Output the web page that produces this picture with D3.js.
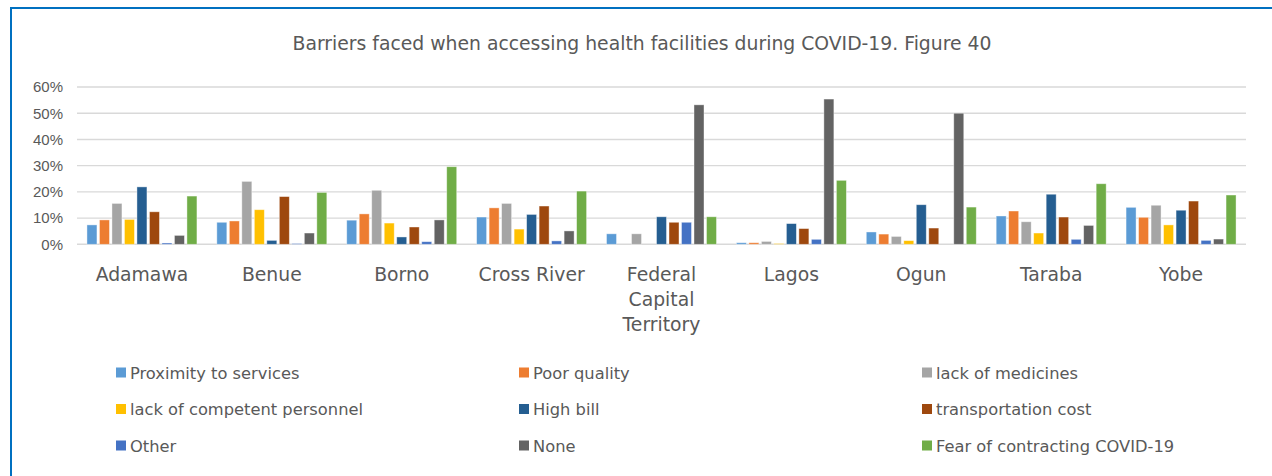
<!DOCTYPE html>
<html>
<head>
<meta charset="utf-8">
<script src="https://cdn.jsdelivr.net/npm/d3@7"></script>
<style>
  html, body { margin: 0; padding: 0; background: #fff; }
  svg { display: block; font-family: "DejaVu Sans", sans-serif; }
</style>
</head>
<body>
<svg id="chart" width="1272" height="476"></svg>
<script>
const categories = ["Adamawa", "Benue", "Borno", "Cross River", "Federal Capital Territory", "Lagos", "Ogun", "Taraba", "Yobe"];
const categoryLines = [["Adamawa"], ["Benue"], ["Borno"], ["Cross River"], ["Federal", "Capital", "Territory"], ["Lagos"], ["Ogun"], ["Taraba"], ["Yobe"]];
const seriesNames = ["Proximity to services", "Poor quality", "lack of medicines", "lack of competent personnel", "High bill", "transportation cost", "Other", "None", "Fear of contracting COVID-19"];
const seriesColors = ["#5B9BD5", "#ED7D31", "#A5A5A5", "#FFC000", "#255E91", "#9E480E", "#4472C4", "#636363", "#70AD47"];
// values in %, one array per series, in category order
const proximity   = [7.4, 8.4, 9.2, 10.4, 4.0, 0.6, 4.7, 10.8, 14.1];
const poorQuality = [9.3, 8.9, 11.6, 13.9, 0, 0.6, 3.9, 12.7, 10.3];
const medicines   = [15.6, 24.0, 20.6, 15.6, 4.0, 1.1, 3.0, 8.6, 14.9];
const personnel   = [9.5, 13.2, 8.1, 5.8, 0, 0.3, 1.4, 4.3, 7.4];
const highBill    = [21.9, 1.5, 2.8, 11.4, 10.5, 7.9, 15.1, 19.1, 13.0];
const transport   = [12.4, 18.2, 6.6, 14.6, 8.4, 6.0, 6.2, 10.4, 16.5];
const other       = [0.5, 0.3, 1.0, 1.3, 8.4, 1.9, 0, 1.9, 1.5];
const none        = [3.4, 4.3, 9.3, 5.1, 53.2, 55.4, 50.0, 7.2, 2.0];
const fear        = [18.4, 19.8, 29.6, 20.3, 10.5, 24.4, 14.2, 23.1, 18.8];
const seriesValues = [proximity, poorQuality, medicines, personnel, highBill, transport, other, none, fear];
const yTicks = [0, 10, 20, 30, 40, 50, 60];
const titleText = "Barriers faced when accessing health facilities during COVID-19. Figure 40";

const svg = d3.select("#chart");
const textColor = "#595959";

// frame lines (top and left, blue)
svg.append("line").attr("x1", 11).attr("x2", 1272).attr("y1", 8).attr("y2", 8)
  .attr("stroke", "#0070C0").attr("stroke-width", 2);
svg.append("line").attr("x1", 11).attr("x2", 11).attr("y1", 7).attr("y2", 476)
  .attr("stroke", "#0070C0").attr("stroke-width", 2);

// title
svg.append("text").attr("x", 642).attr("y", 50).attr("text-anchor", "middle")
  .attr("font-size", 18.8).attr("fill", textColor).text(titleText);

const plotLeft = 77, plotRight = 1246, plotTop = 87, plotBottom = 244.3;
const y = d3.scaleLinear().domain([0, 60]).range([plotBottom, plotTop]);
const x0 = d3.scaleBand().domain(categories).range([plotLeft, plotRight]).paddingInner(0).paddingOuter(0);
const groupW = x0.bandwidth() * 0.866;
const groupOff = (x0.bandwidth() - groupW) / 2;
const x1 = d3.scaleBand().domain(seriesNames).range([groupOff, groupOff + groupW]).paddingInner(0.2).paddingOuter(0.1);

// gridlines
svg.append("g").selectAll("line").data(yTicks).join("line")
  .attr("x1", plotLeft).attr("x2", plotRight)
  .attr("y1", d => y(d)).attr("y2", d => y(d))
  .attr("stroke", "#D9D9D9").attr("stroke-width", 1.4);

// y axis labels via d3 axis
const yAxis = d3.axisLeft(y).tickValues(yTicks).tickFormat(d => d + "%").tickSize(0).tickPadding(0);
const yg = svg.append("g").attr("transform", `translate(${plotLeft - 14},0)`).call(yAxis);
yg.select(".domain").remove();
yg.selectAll("text").attr("font-size", 15).attr("fill", textColor).attr("font-family", null);

// bars
const groups = svg.append("g").selectAll("g").data(categories).join("g")
  .attr("transform", d => `translate(${x0(d)},0)`);
groups.selectAll("rect")
  .data((c, ci) => seriesNames.map((s, si) => ({ s, si, v: seriesValues[si][ci] })).filter(d => d.v > 0))
  .join("rect")
  .attr("x", d => x1(d.s))
  .attr("width", x1.bandwidth())
  .attr("y", d => y(d.v))
  .attr("height", d => y(0) - y(d.v))
  .attr("fill", d => seriesColors[d.si])
  .attr("stroke", "#ffffff").attr("stroke-opacity", 0.5).attr("stroke-width", 0.8);

// category labels
const cl = svg.append("g").selectAll("text").data(categories).join("text")
  .attr("x", d => x0(d) + x0.bandwidth() / 2)
  .attr("y", 281)
  .attr("text-anchor", "middle")
  .attr("font-size", 18.8)
  .attr("fill", textColor);
cl.selectAll("tspan").data((d, i) => categoryLines[i]).join("tspan")
  .attr("x", function () { return d3.select(this.parentNode).attr("x"); })
  .attr("dy", (d, i) => i === 0 ? 0 : 25)
  .text(d => d);

// legend
const legendCols = [116, 519, 922];
const legendRows = [373, 409.5, 446];
const lg = svg.append("g").selectAll("g").data(seriesNames).join("g")
  .attr("transform", (d, i) => `translate(${legendCols[i % 3]},${legendRows[Math.floor(i / 3)]})`);
lg.append("rect").attr("x", 0).attr("y", -5.5).attr("width", 10).attr("height", 10)
  .attr("fill", (d, i) => seriesColors[i]);
lg.append("text").attr("x", 14).attr("y", 0).attr("dy", "0.35em")
  .attr("font-size", 16.3).attr("fill", textColor).text(d => d);
</script>
</body>
</html>
